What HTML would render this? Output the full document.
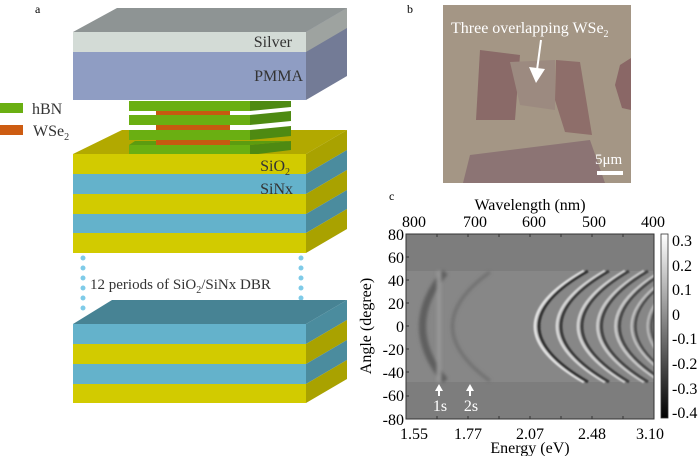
<!DOCTYPE html>
<html><head><meta charset="utf-8"><style>
html,body{margin:0;padding:0;background:#fff;}
svg{display:block;font-family:"Liberation Serif",serif;}
</style></head><body>
<svg width="700" height="456" viewBox="0 0 700 456" xmlns="http://www.w3.org/2000/svg">
<defs>
<clipPath id="pc"><rect x="406" y="234" width="248" height="185"/></clipPath>
<linearGradient id="cb" x1="0" y1="0" x2="0" y2="1"><stop offset="0" stop-color="#fff"/><stop offset="1" stop-color="#000"/></linearGradient>
<filter id="bl"><feGaussianBlur stdDeviation="1.6"/></filter>
<filter id="bl2"><feGaussianBlur stdDeviation="0.8"/></filter>
</defs>
<text x="35" y="13" font-size="12">a</text>
<polygon points="73,32 117,8 347,8 306,32" fill="#8e9494"/>
<polygon points="306,32 347,8 347,76 306,100" fill="#737b96"/>
<polygon points="306,32 347,8 347,28 306,52" fill="#9ea3a0"/>
<rect x="73" y="32" width="233" height="20" fill="#d3dbd6"/>
<rect x="73" y="52" width="233" height="48" fill="#8f9dc3"/>
<text x="292" y="47" font-size="16" text-anchor="end" fill="#333">Silver</text>
<text x="303" y="81" font-size="16" text-anchor="end" fill="#333">PMMA</text>
<rect x="0" y="103" width="23" height="10" fill="#6aaf12"/>
<rect x="0" y="125" width="23" height="10" fill="#cd5c12"/>
<text x="32" y="114" font-size="16" fill="#333">hBN</text>
<text x="33" y="136" font-size="16" fill="#333">WSe<tspan font-size="10" dy="4">2</tspan></text>
<polygon points="73,154 122,130 347,130 306,154" fill="#b2a900"/>
<g>
<polygon points="129,145 135,141 291,141 250,145" fill="#5c9c10"/>
<polygon points="250,145 291,141 291,150 250,155" fill="#4e8a12"/>
<rect x="129" y="145" width="121" height="10" fill="#6aaf12"/>
<rect x="156" y="140" width="74" height="5" fill="#c65a10"/>
<polygon points="250,130 291,126 291,136 250,140" fill="#4e8a12"/>
<rect x="129" y="130" width="121" height="10" fill="#6aaf12"/>
<rect x="156" y="125" width="74" height="5" fill="#c65a10"/>
<polygon points="250,115 291,111 291,121 250,125" fill="#4e8a12"/>
<rect x="129" y="115" width="121" height="10" fill="#6aaf12"/>
<rect x="156" y="111" width="74" height="4" fill="#c65a10"/>
<polygon points="250,101 291,101 291,107 250,111" fill="#4e8a12"/>
<rect x="129" y="101" width="121" height="10" fill="#6aaf12"/>
</g>
<polygon points="306,154 347,130 347,150 306,174" fill="#a9a200"/>
<polygon points="306,174 347,150 347,170 306,194" fill="#4b8c9e"/>
<polygon points="306,194 347,170 347,190 306,214" fill="#a9a200"/>
<polygon points="306,214 347,190 347,209 306,233" fill="#4b8c9e"/>
<polygon points="306,233 347,209 347,229 306,253" fill="#a9a200"/>
<rect x="73" y="154" width="233" height="20" fill="#d2cb00"/>
<rect x="73" y="174" width="233" height="20" fill="#64b2cb"/>
<rect x="73" y="194" width="233" height="20" fill="#d2cb00"/>
<rect x="73" y="214" width="233" height="19" fill="#64b2cb"/>
<rect x="73" y="233" width="233" height="20" fill="#d2cb00"/>
<text x="290" y="171" font-size="16" text-anchor="end" fill="#333">SiO<tspan font-size="10" dy="4">2</tspan></text>
<text x="293" y="194" font-size="16" text-anchor="end" fill="#333">SiNx</text>
<g fill="#7fcbe8">
<circle cx="83" cy="258" r="2.5"/><circle cx="83" cy="268" r="2.5"/><circle cx="83" cy="278" r="2.5"/><circle cx="83" cy="288" r="2.5"/><circle cx="83" cy="298" r="2.5"/><circle cx="83" cy="308" r="2.5"/>
<circle cx="301" cy="258" r="2.5"/><circle cx="301" cy="268" r="2.5"/><circle cx="301" cy="278" r="2.5"/><circle cx="301" cy="288" r="2.5"/><circle cx="301" cy="298" r="2.5"/><circle cx="301" cy="308" r="2.5"/>
</g>
<text x="90" y="289" font-size="15" fill="#333">12 periods of SiO<tspan font-size="10" dy="4">2</tspan><tspan dy="-4">/SiNx DBR</tspan></text>
<polygon points="73,324 112,300 347,300 306,324" fill="#478394"/>
<polygon points="306,324 347,300 347,320 306,344" fill="#4b8c9e"/>
<polygon points="306,344 347,320 347,340 306,364" fill="#a9a200"/>
<polygon points="306,364 347,340 347,360 306,384" fill="#4b8c9e"/>
<polygon points="306,384 347,360 347,379 306,403" fill="#a9a200"/>
<rect x="73" y="324" width="233" height="20" fill="#64b2cb"/>
<rect x="73" y="344" width="233" height="20" fill="#d2cb00"/>
<rect x="73" y="364" width="233" height="20" fill="#64b2cb"/>
<rect x="73" y="384" width="233" height="19" fill="#d2cb00"/>
<text x="407" y="13" font-size="12">b</text>
<rect x="443" y="5" width="188" height="178" fill="#a49685"/>
<polygon points="480,50 520,55 515,120 476,120" fill="#8a6a68"/>
<polygon points="556,60 580,62 592,135 565,132 555,100" fill="#8e6e6a"/>
<polygon points="620,65 631,58 631,110 622,108 615,85" fill="#8a6766"/>
<polygon points="470,155 590,140 605,183 463,183" fill="#8c7474"/>
<polygon points="510,62 555,60 555,110 520,105" fill="#9c8a80"/>
<text x="451" y="33" font-size="16" fill="#fff">Three overlapping WSe<tspan font-size="10" dy="4">2</tspan></text>
<line x1="541" y1="40" x2="537" y2="70" stroke="#fff" stroke-width="2"/>
<polygon points="529,67 545,69 536,83" fill="#fff"/>
<text x="595" y="164" font-size="15" fill="#fff">5μm</text>
<rect x="597" y="171" width="26" height="4" fill="#fff"/>
<text x="389" y="200" font-size="12">c</text>
<text x="530" y="210" font-size="16" text-anchor="middle">Wavelength (nm)</text>
<g font-size="16" text-anchor="middle">
<text x="414" y="227">800</text><text x="475" y="227">700</text><text x="534" y="227">600</text><text x="594" y="227">500</text><text x="653" y="227">400</text>
<text x="414" y="439">1.55</text><text x="468" y="439">1.77</text><text x="530" y="439">2.07</text><text x="592" y="439">2.48</text><text x="650" y="439">3.10</text>
</g>
<text x="530" y="453" font-size="16" text-anchor="middle">Energy (eV)</text>
<g font-size="16" text-anchor="end">
<text x="404" y="240">80</text><text x="404" y="263">60</text><text x="404" y="286">40</text><text x="404" y="309">20</text><text x="404" y="332">0</text><text x="404" y="355">-20</text><text x="404" y="378">-40</text><text x="404" y="401">-60</text><text x="404" y="425">-80</text>
</g>
<text transform="translate(371,326) rotate(-90)" font-size="16" text-anchor="middle">Angle (degree)</text>
<rect x="406" y="234" width="248" height="185" fill="#7d7d7d"/>
<g clip-path="url(#pc)">
<rect x="406" y="271" width="248" height="111" fill="#878787"/>
<g fill="none" filter="url(#bl)">
<path d="M445,272 Q400,326 445,381" stroke="#5e5e5e" stroke-width="7"/>
<path d="M490,272 Q415,326 490,381" stroke="#6e6e6e" stroke-width="3"/>
<line x1="439" y1="271" x2="439" y2="382" stroke="#979797" stroke-width="4"/>
</g>
<g fill="none" filter="url(#bl2)">
<path d="M584,271 Q486,326 584,382" stroke="#e0e0e0" stroke-width="3"/>
<path d="M588,271 Q490,326 588,382" stroke="#333" stroke-width="3"/>
<path d="M605,271 Q509,326 605,382" stroke="#d4d4d4" stroke-width="3"/>
<path d="M609,271 Q513,326 609,382" stroke="#3a3a3a" stroke-width="3"/>
<path d="M625,271 Q531,326 625,382" stroke="#d0d0d0" stroke-width="3"/>
<path d="M629,271 Q535,326 629,382" stroke="#404040" stroke-width="3"/>
<path d="M644,271 Q551,326 644,382" stroke="#c8c8c8" stroke-width="3"/>
<path d="M648,271 Q555,326 648,382" stroke="#444" stroke-width="3"/>
<path d="M662,271 Q569,326 662,382" stroke="#c4c4c4" stroke-width="3"/>
<path d="M666,271 Q573,326 666,382" stroke="#4a4a4a" stroke-width="3"/>
<path d="M678,271 Q585,326 678,382" stroke="#bcbcbc" stroke-width="2.5"/>
<path d="M682,271 Q589,326 682,382" stroke="#505050" stroke-width="2.5"/>
<path d="M694,271 Q601,326 694,382" stroke="#b4b4b4" stroke-width="2.5"/>
<path d="M698,271 Q605,326 698,382" stroke="#555" stroke-width="2.5"/>
</g>
</g>
<rect x="406" y="234" width="248" height="185" fill="none" stroke="#333" stroke-width="1"/>
<g stroke="#333" stroke-width="1">
<line x1="406" y1="257" x2="409" y2="257"/><line x1="406" y1="280" x2="409" y2="280"/><line x1="406" y1="303" x2="409" y2="303"/><line x1="406" y1="326" x2="409" y2="326"/><line x1="406" y1="349" x2="409" y2="349"/><line x1="406" y1="372" x2="409" y2="372"/><line x1="406" y1="396" x2="409" y2="396"/>
<line x1="437" y1="419" x2="437" y2="416"/><line x1="468" y1="419" x2="468" y2="416"/><line x1="499" y1="419" x2="499" y2="416"/><line x1="530" y1="419" x2="530" y2="416"/><line x1="561" y1="419" x2="561" y2="416"/><line x1="592" y1="419" x2="592" y2="416"/><line x1="623" y1="419" x2="623" y2="416"/>
<line x1="437" y1="234" x2="437" y2="237"/><line x1="468" y1="234" x2="468" y2="237"/><line x1="499" y1="234" x2="499" y2="237"/><line x1="530" y1="234" x2="530" y2="237"/><line x1="561" y1="234" x2="561" y2="237"/><line x1="592" y1="234" x2="592" y2="237"/><line x1="623" y1="234" x2="623" y2="237"/>
</g>
<g fill="#fff">
<polygon points="435,391 439,384 443,391"/><rect x="438" y="390" width="2" height="6"/>
<polygon points="466,391 470,384 474,391"/><rect x="469" y="390" width="2" height="6"/>
</g>
<text x="440" y="411" font-size="16" fill="#fff" text-anchor="middle">1s</text>
<text x="471" y="411" font-size="16" fill="#fff" text-anchor="middle">2s</text>
<rect x="661" y="234" width="7" height="184" fill="url(#cb)" stroke="#333" stroke-width="0.8"/>
<g font-size="16">
<text x="672" y="246">0.3</text><text x="672" y="271">0.2</text><text x="672" y="295">0.1</text><text x="672" y="320">0</text><text x="672" y="344">-0.1</text><text x="672" y="369">-0.2</text><text x="672" y="394">-0.3</text><text x="672" y="418">-0.4</text>
</g>
</svg>
</body></html>
